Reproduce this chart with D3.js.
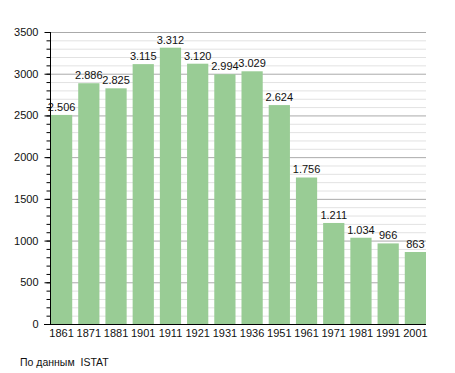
<!DOCTYPE html>
<html>
<head>
<meta charset="utf-8">
<script src="https://cdn.jsdelivr.net/npm/d3@7"></script>
<style>
  body { margin: 0; background: #fff; }
  text { font-family: "Liberation Sans", Arial, sans-serif; }
</style>
</head>
<body>
<svg width="455" height="373"></svg>
<script>
const years = ["1861", "1871", "1881", "1901", "1911", "1921", "1931", "1936", "1951", "1961", "1971", "1981", "1991", "2001"];
const population = [2506, 2886, 2825, 3115, 3312, 3120, 2994, 3029, 2624, 1756, 1211, 1034, 966, 863];
const labels = ["2.506", "2.886", "2.825", "3.115", "3.312", "3.120", "2.994", "3.029", "2.624", "1.756", "1.211", "1.034", "966", "863"];
const yTicks = [0, 500, 1000, 1500, 2000, 2500, 3000, 3500];

const svg = d3.select("svg");
const plotLeft = 50, plotRight = 426, plotTop = 32, plotBottom = 324;

const x = d3.scaleBand()
  .domain(years)
  .range([plotLeft + 1, plotRight])
  .paddingInner(0.22)
  .paddingOuter(0);

const y = d3.scaleLinear()
  .domain([0, 3500])
  .range([plotBottom, plotTop]);

// grid lines, minor every 100, major every 500
const minor = d3.range(100, 3501, 100).filter(v => v % 500 != 0);
svg.append("g").selectAll("line")
  .data(minor)
  .enter().append("line")
  .attr("x1", plotLeft).attr("x2", plotRight)
  .attr("y1", d => y(d) + 0.5).attr("y2", d => y(d) + 0.5)
  .attr("stroke", "#e2e2e2");

svg.append("g").selectAll("line")
  .data(yTicks.slice(1))
  .enter().append("line")
  .attr("x1", plotLeft).attr("x2", plotRight)
  .attr("y1", d => y(d) + 0.5).attr("y2", d => y(d) + 0.5)
  .attr("stroke", "#aaaaaa");

// bars
svg.append("g").selectAll("rect")
  .data(population)
  .enter().append("rect")
  .attr("x", (d, i) => x(years[i]))
  .attr("y", d => y(d))
  .attr("width", x.bandwidth())
  .attr("height", d => plotBottom - y(d))
  .attr("fill", "#99cc95");

// value labels
svg.append("g").selectAll("text")
  .data(population)
  .enter().append("text")
  .attr("x", (d, i) => x(years[i]) + x.bandwidth() / 2)
  .attr("y", d => y(d) - 4)
  .attr("text-anchor", "middle")
  .attr("font-size", "11px")
  .attr("fill", "#111")
  .text((d, i) => labels[i]);

// y axis
const yAxis = svg.append("g")
  .attr("transform", "translate(" + (plotLeft + 0.5) + ",0)");
yAxis.call(d3.axisLeft(y).tickValues(d3.range(0, 3501, 100)).tickSize(4).tickFormat(""))
  .call(g => g.select(".domain").remove());
yAxis.selectAll(".tick line").attr("stroke", "#000");
yAxis.append("line")
  .attr("y1", plotTop).attr("y2", plotBottom)
  .attr("stroke", "#000");
yAxis.selectAll(".ytl")
  .data(yTicks)
  .enter().append("text")
  .attr("class", "ytl")
  .attr("x", -12)
  .attr("y", d => y(d) + 4)
  .attr("text-anchor", "end")
  .attr("font-size", "11px")
  .attr("fill", "#111")
  .text(d => d);
yAxis.selectAll(".ymaj")
  .data(yTicks)
  .enter().append("line")
  .attr("x1", -6).attr("x2", 0)
  .attr("y1", d => y(d) + 0.5).attr("y2", d => y(d) + 0.5)
  .attr("stroke", "#000");

// baseline
svg.append("line")
  .attr("x1", plotLeft - 6).attr("x2", plotRight)
  .attr("y1", plotBottom + 0.5).attr("y2", plotBottom + 0.5)
  .attr("stroke", "#000");

// x labels
svg.append("g").selectAll("text")
  .data(years)
  .enter().append("text")
  .attr("x", d => x(d) + x.bandwidth() / 2)
  .attr("y", plotBottom + 13)
  .attr("text-anchor", "middle")
  .attr("font-size", "11px")
  .attr("fill", "#111")
  .text(d => d);

svg.append("text")
  .attr("x", 20)
  .attr("y", 366)
  .attr("font-size", "10.5px")
  .attr("fill", "#111")
  .attr("xml:space", "preserve")
  .text("По данным  ISTAT");
</script>
</body>
</html>
